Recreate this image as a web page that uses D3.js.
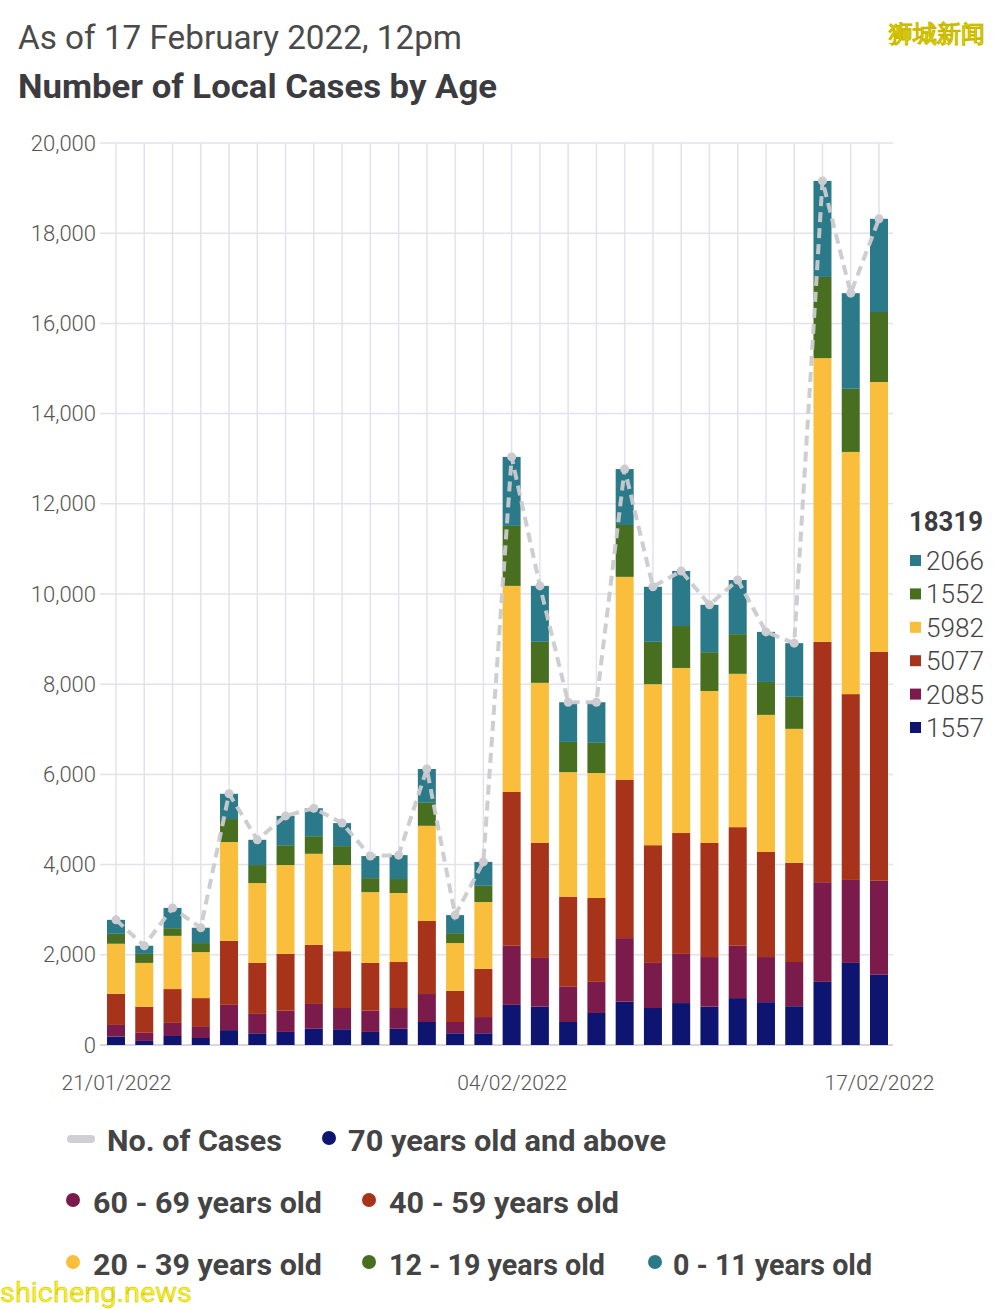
<!DOCTYPE html>
<html>
<head>
<meta charset="utf-8">
<script src="https://cdn.jsdelivr.net/npm/d3@7"></script>
<style>
  body { margin: 0; background: #fff; }
  svg text { font-family: Roboto, "Noto Sans", sans-serif; }
</style>
</head>
<body>
<svg id="chart" width="1000" height="1310"></svg>
<script>
/* ------------------------------- data -------------------------------- */
const dates = ['21/01','22/01','23/01','24/01','25/01','26/01','27/01','28/01','29/01','30/01',
  '31/01','01/02','02/02','03/02','04/02','05/02','06/02','07/02','08/02','09/02',
  '10/02','11/02','12/02','13/02','14/02','15/02','16/02','17/02'];
const xTickLabels = ['21/01/2022', '04/02/2022', '17/02/2022'];
const xTickDates  = ['21/01', '04/02', '17/02'];

const age70plus = [185, 90, 200, 155, 330, 260, 290, 360, 350, 290, 360, 510, 260, 260,
  890, 850, 510, 710, 960, 820, 930, 850, 1040, 950, 860, 1400, 1820, 1557];
const age60to69 = [260, 180, 290, 245, 560, 430, 470, 550, 470, 470, 460, 620, 250, 360,
  1310, 1080, 780, 690, 1410, 1000, 1090, 1100, 1160, 1000, 980, 2210, 1840, 2085];
const age40to59 = [690, 580, 750, 640, 1420, 1130, 1260, 1310, 1260, 1060, 1020, 1620, 690, 1070,
  3410, 2550, 2000, 1860, 3510, 2610, 2680, 2530, 2630, 2330, 2200, 5330, 4120, 5077];
const age20to39 = [1110, 970, 1180, 1020, 2190, 1770, 1970, 2020, 1910, 1570, 1530, 2110, 1060, 1480,
  4570, 3550, 2760, 2770, 4500, 3570, 3660, 3370, 3400, 3040, 2970, 6290, 5370, 5982];
const age12to19 = [220, 200, 170, 200, 510, 400, 440, 390, 420, 310, 310, 510, 220, 360,
  1330, 910, 670, 670, 1150, 940, 930, 860, 880, 730, 710, 1800, 1400, 1552];
const age0to11 = [310, 180, 450, 340, 560, 560, 650, 620, 510, 490, 530, 750, 400, 530,
  1530, 1240, 880, 900, 1240, 1220, 1220, 1050, 1200, 1110, 1190, 2130, 2120, 2066];

const seriesNames = ['70 years old and above', '60 - 69 years old', '40 - 59 years old',
  '20 - 39 years old', '12 - 19 years old', '0 - 11 years old'];
const seriesKeys  = ['a70', 'a60', 'a40', 'a20', 'a12', 'a0'];
const colors      = ['#0d1570', '#7a1b4b', '#a8331b', '#f9bf3c', '#486f20', '#2b7a8a'];
const yTicks = [0, 2000, 4000, 6000, 8000, 10000, 12000, 14000, 16000, 18000, 20000];

const rows = dates.map((d, i) => ({
  date: d, a70: age70plus[i], a60: age60to69[i], a40: age40to59[i],
  a20: age20to39[i], a12: age12to19[i], a0: age0to11[i]
}));
rows.forEach(r => r.total = d3.sum(seriesKeys, k => r[k]));

/* ------------------------------- setup -------------------------------- */
const svg = d3.select('#chart');
const TOP = 143, BOTTOM = 1045, LEFT = 100, RIGHT = 893;

const x = d3.scalePoint().domain(dates).range([116, 879]);
const y = d3.scaleLinear().domain([0, 20000]).range([BOTTOM, TOP]);
const BAR_W = 18;

// titles
svg.append('text').attr('x', 18).attr('y', 49)
  .attr('font-size', 33).attr('fill', '#4a4a4a')
  .attr('textLength', 444).attr('lengthAdjust', 'spacingAndGlyphs')
  .text('As of 17 February 2022, 12pm');
svg.append('text').attr('x', 18).attr('y', 98)
  .attr('font-size', 33).attr('font-weight', 700).attr('fill', '#3c3c40')
  .attr('textLength', 479).attr('lengthAdjust', 'spacingAndGlyphs')
  .text('Number of Local Cases by Age');

// watermark
svg.append('text').attr('x', 985).attr('y', 42).attr('text-anchor', 'end')
  .attr('font-family', '"Noto Sans CJK SC"').attr('font-size', 24).attr('font-weight', 700)
  .attr('fill', '#f7f21a').attr('stroke', '#c9b800').attr('stroke-width', 0.3)
  .text('狮城新闻');

/* ------------------------------- grid & axes -------------------------- */
const grid = svg.append('g');
grid.selectAll('line.h').data(yTicks.slice(1)).join('line')
  .attr('x1', LEFT).attr('x2', RIGHT)
  .attr('y1', d => y(d)).attr('y2', d => y(d))
  .attr('stroke', '#e2e2ee').attr('stroke-width', 1.5);
grid.selectAll('line.v').data(dates).join('line')
  .attr('x1', d => x(d)).attr('x2', d => x(d))
  .attr('y1', TOP).attr('y2', BOTTOM)
  .attr('stroke', '#e2e2ee').attr('stroke-width', 1.5);

const yAxisG = svg.append('g').attr('transform', `translate(${LEFT - 4},0)`)
  .call(d3.axisLeft(y).tickValues(yTicks).tickSize(0).tickPadding(0)
    .tickFormat(d3.format(',')));
yAxisG.select('.domain').remove();
yAxisG.selectAll('text').attr('font-size', 22).attr('fill', '#555')
  .attr('font-family', 'Roboto, sans-serif').attr('font-weight', 300);

const xAxisG = svg.append('g').attr('transform', `translate(0,${BOTTOM})`)
  .call(d3.axisBottom(x).tickValues(xTickDates).tickSize(0).tickPadding(30)
    .tickFormat((d, i) => xTickLabels[i]));
xAxisG.select('.domain').attr('stroke', '#c8c8d0').attr('stroke-width', 1.5)
  .attr('d', `M${LEFT},0H${RIGHT}`);
xAxisG.selectAll('text').attr('font-size', 21).attr('fill', '#555')
  .attr('font-family', 'Roboto, sans-serif').attr('font-weight', 300);

/* ------------------------------- bars --------------------------------- */
const stacked = d3.stack().keys(seriesKeys)(rows);
svg.append('g').selectAll('g').data(stacked).join('g')
  .attr('fill', (d, i) => colors[i])
  .selectAll('rect').data(d => d).join('rect')
  .attr('x', d => x(d.data.date) - BAR_W / 2)
  .attr('width', BAR_W)
  .attr('y', d => y(d[1]))
  .attr('height', d => y(d[0]) - y(d[1]));

// total line
const lineGen = d3.line().x(d => x(d.date)).y(d => y(d.total));
svg.append('path').datum(rows).attr('d', lineGen)
  .attr('fill', 'none').attr('stroke', '#cbcbd0').attr('stroke-width', 4)
  .attr('stroke-dasharray', '10,6').attr('opacity', 0.95);
svg.append('g').selectAll('circle').data(rows).join('circle')
  .attr('cx', d => x(d.date)).attr('cy', d => y(d.total)).attr('r', 4.5)
  .attr('fill', '#cbcbd0');

/* ------------------------------- right legend ------------------------- */
const last = rows[rows.length - 1];
svg.append('text').attr('x', 909).attr('y', 531)
  .attr('font-size', 28).attr('font-weight', 700).attr('fill', '#3c3c40')
  .attr('textLength', 74).attr('lengthAdjust', 'spacingAndGlyphs')
  .text(last.total);
const rl = svg.append('g').selectAll('g').data(seriesKeys.slice().reverse()).join('g')
  .attr('transform', (d, i) => `translate(910,${561 + i * 33.4})`);
rl.append('rect').attr('x', 0).attr('y', -6).attr('width', 11).attr('height', 11)
  .attr('fill', d => colors[seriesKeys.indexOf(d)]);
rl.append('text').attr('x', 16).attr('y', 9)
  .attr('font-size', 26).attr('fill', '#444').attr('font-weight', 300)
  .attr('textLength', 58).attr('lengthAdjust', 'spacingAndGlyphs')
  .text(d => last[d]);

/* ------------------------------- bottom legend ------------------------ */
const legendDots = [
  { i: 0, cx: 329, tx: 348, cy: 1141, w: 318 },
  { i: 1, cx: 73,  tx: 93,  cy: 1203, w: 229 },
  { i: 2, cx: 369, tx: 389, cy: 1203, w: 230 },
  { i: 3, cx: 73,  tx: 93,  cy: 1265, w: 229 },
  { i: 4, cx: 369, tx: 389, cy: 1265, w: 216 },
  { i: 5, cx: 655, tx: 673, cy: 1265, w: 199 }
];
const lg = svg.append('g');
lg.append('rect').attr('x', 67).attr('y', 1135).attr('width', 28).attr('height', 8)
  .attr('rx', 4).attr('fill', '#cfcfd4');
lg.append('text').attr('x', 107).attr('y', 1151)
  .attr('font-size', 29).attr('font-weight', 700).attr('fill', '#444')
  .attr('textLength', 175).attr('lengthAdjust', 'spacingAndGlyphs')
  .text('No. of Cases');
lg.selectAll('circle').data(legendDots).join('circle')
  .attr('cx', d => d.cx).attr('cy', d => d.cy - 3).attr('r', 7)
  .attr('fill', d => colors[d.i]);
lg.selectAll('text.s').data(legendDots).join('text')
  .attr('x', d => d.tx).attr('y', d => d.cy + 10)
  .attr('font-size', 29).attr('font-weight', 700).attr('fill', '#444')
  .attr('textLength', d => d.w).attr('lengthAdjust', 'spacingAndGlyphs')
  .text(d => seriesNames[d.i]);

// watermark
svg.append('text').attr('x', 0).attr('y', 1302)
  .attr('font-size', 27).attr('fill', '#f7f21a')
  .attr('stroke', '#c9b800').attr('stroke-width', 0.4)
  .attr('textLength', 192).attr('lengthAdjust', 'spacingAndGlyphs')
  .text('shicheng.news');
</script>
</body>
</html>
